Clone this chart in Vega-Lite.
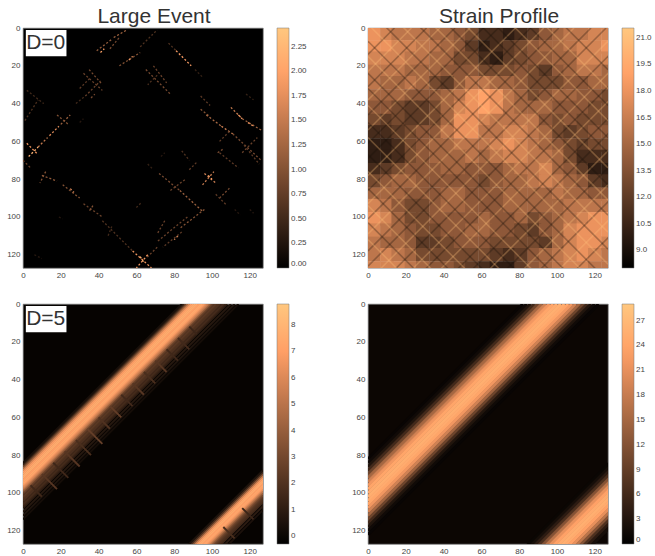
{"$schema":"https://vega.github.io/schema/vega-lite/v6.json","padding":{"left":6,"top":5,"right":0,"bottom":0},"bounds":"flush","columns":2,"spacing":{"column":105,"row":36},"background":"white","resolve":{"scale":{"color":"independent"},"legend":{"color":"independent"}},
"config":{"view":{"stroke":"#777","strokeWidth":0.7},"font":"Liberation Sans","axis":{"labelFontSize":8,"labelColor":"#444","ticks":false,"domain":false,"grid":false,"labelPadding":3,"title":null,"values":[0,20,40,60,80,100,120],"labelFlush":false},"legend":{"gradientLength":240,"gradientThickness":12,"offset":14,"labelFontSize":8,"labelColor":"#444","labelOverlap":false,"title":null,"gradientStrokeColor":"#777","gradientStrokeWidth":0.5},"title":{"fontSize":21,"fontWeight":"normal","color":"#333","offset":-3,"font":"Liberation Sans"}},
"concat":[
{"width":240,"height":240,"view":{"fill":"#000000"},"title":{"text":"Large Event","dx":11},
"layer":[
{"data":{"values":[
{"x":2,"y":61,"x2":8,"y2":67,"v":1.8},{"x":3,"y":68,"x2":8,"y2":63,"v":2.2},{"x":8,"y":63,"x2":13,"y2":58,"v":1.5},{"x":14,"y":57,"x2":19,"y2":52,"v":1.7},{"x":20,"y":51,"x2":25,"y2":46,"v":1.2},{"x":18,"y":46,"x2":24,"y2":51,"v":1.0},{"x":2,"y":33,"x2":11,"y2":40,"v":0.5},{"x":1,"y":49,"x2":8,"y2":38,"v":0.6},{"x":0,"y":70,"x2":4,"y2":74,"v":0.8},
{"x":39,"y":12,"x2":47,"y2":6,"v":1.1},{"x":48,"y":5,"x2":55,"y2":1,"v":1.3},{"x":41,"y":13,"x2":43,"y2":11,"v":2.0},{"x":46,"y":11,"x2":51,"y2":5,"v":0.9},
{"x":32,"y":24,"x2":42,"y2":33,"v":0.8},{"x":35,"y":22,"x2":42,"y2":30,"v":0.9},{"x":33,"y":36,"x2":41,"y2":28,"v":0.8},{"x":30,"y":32,"x2":36,"y2":26,"v":0.7},{"x":28,"y":40,"x2":33,"y2":36,"v":0.5},{"x":36,"y":37,"x2":38,"y2":35,"v":0.9},
{"x":51,"y":20,"x2":62,"y2":13,"v":1.0},{"x":56,"y":17,"x2":58,"y2":15,"v":1.8},{"x":62,"y":10,"x2":71,"y2":1,"v":0.6},
{"x":81,"y":12,"x2":89,"y2":20,"v":1.9},{"x":77,"y":8,"x2":81,"y2":12,"v":0.6},{"x":65,"y":22,"x2":78,"y2":35,"v":0.9},{"x":69,"y":20,"x2":76,"y2":29,"v":0.8},{"x":71,"y":25,"x2":66,"y2":30,"v":0.6},
{"x":91,"y":22,"x2":95,"y2":26,"v":0.4},{"x":94,"y":36,"x2":99,"y2":41,"v":0.7},{"x":94,"y":43,"x2":99,"y2":47,"v":1.0},{"x":97,"y":46,"x2":105,"y2":52,"v":1.3},{"x":105,"y":52,"x2":111,"y2":56,"v":1.6},{"x":110,"y":42,"x2":116,"y2":48,"v":1.5},{"x":116,"y":48,"x2":126,"y2":54,"v":1.2},{"x":114,"y":46,"x2":116,"y2":48,"v":1.9},{"x":119,"y":50,"x2":122,"y2":52,"v":1.8},{"x":111,"y":56,"x2":126,"y2":70,"v":0.9},{"x":104,"y":66,"x2":114,"y2":74,"v":0.7},{"x":117,"y":62,"x2":125,"y2":72,"v":0.7},{"x":116,"y":66,"x2":124,"y2":58,"v":0.8},{"x":104,"y":60,"x2":110,"y2":54,"v":0.7},{"x":103,"y":66,"x2":106,"y2":64,"v":0.9},
{"x":84,"y":65,"x2":88,"y2":70,"v":0.6},{"x":88,"y":75,"x2":92,"y2":71,"v":0.7},{"x":66,"y":72,"x2":69,"y2":75,"v":0.4},{"x":72,"y":77,"x2":83,"y2":86,"v":0.9},{"x":83,"y":86,"x2":95,"y2":97,"v":1.2},{"x":78,"y":86,"x2":86,"y2":80,"v":0.8},{"x":96,"y":77,"x2":102,"y2":82,"v":1.6},{"x":95,"y":83,"x2":101,"y2":76,"v":1.5},{"x":98,"y":78,"x2":100,"y2":80,"v":2.0},{"x":104,"y":90,"x2":110,"y2":84,"v":0.9},{"x":102,"y":88,"x2":108,"y2":94,"v":0.7},{"x":112,"y":96,"x2":115,"y2":99,"v":0.3},
{"x":96,"y":96,"x2":83,"y2":106,"v":1.0},{"x":87,"y":100,"x2":71,"y2":113,"v":0.8},{"x":82,"y":110,"x2":80,"y2":112,"v":1.7},{"x":75,"y":102,"x2":71,"y2":109,"v":0.8},{"x":84,"y":108,"x2":74,"y2":116,"v":0.7},{"x":71,"y":116,"x2":65,"y2":122,"v":0.8},{"x":58,"y":118,"x2":68,"y2":127,"v":1.8},{"x":66,"y":120,"x2":60,"y2":127,"v":1.9},{"x":62,"y":121,"x2":64,"y2":124,"v":2.2},{"x":60,"y":95,"x2":63,"y2":92,"v":0.5},
{"x":10,"y":78,"x2":18,"y2":81,"v":1.1},{"x":12,"y":76,"x2":9,"y2":82,"v":1.0},{"x":21,"y":83,"x2":30,"y2":90,"v":1.0},{"x":25,"y":85,"x2":27,"y2":87,"v":1.6},{"x":32,"y":93,"x2":42,"y2":100,"v":0.8},{"x":37,"y":94,"x2":35,"y2":97,"v":1.0},{"x":42,"y":102,"x2":51,"y2":111,"v":0.6},{"x":47,"y":105,"x2":45,"y2":110,"v":0.5},{"x":51,"y":111,"x2":58,"y2":118,"v":0.6},{"x":6,"y":120,"x2":10,"y2":122,"v":0.3},{"x":19,"y":100,"x2":21,"y2":101,"v":0.3},{"x":120,"y":96,"x2":122,"y2":98,"v":0.3},{"x":118,"y":35,"x2":122,"y2":38,"v":0.4},{"x":30,"y":50,"x2":32,"y2":48,"v":0.3},{"x":73,"y":68,"x2":75,"y2":66,"v":0.3}
]},"mark":{"type":"rule","strokeWidth":1.3,"strokeDash":[2,2],"clip":true},"encoding":{"x":{"field":"x","type":"quantitative","scale":{"domain":[0,127],"nice":false,"zero":false}},"y":{"field":"y","type":"quantitative","scale":{"domain":[127,0],"nice":false,"zero":false}},"x2":{"field":"x2"},"y2":{"field":"y2"},"color":{"field":"v","type":"quantitative","scale":{"domain":[0,1.95,2.44],"range":["#000000","#ff9f66","#ffc77f"],"interpolate":"rgb"},"legend":{"type":"gradient","values":[0,0.25,0.5,0.75,1,1.25,1.5,1.75,2,2.25],"format":".2f"}}}},
{"data":{"values":[{"x":1.5,"x2":23,"y":1,"y2":15}]},"mark":{"type":"rect","fill":"#ffffff"},"encoding":{"x":{"field":"x","type":"quantitative"},"x2":{"field":"x2"},"y":{"field":"y","type":"quantitative"},"y2":{"field":"y2"}}},
{"data":{"values":[{"x":12,"y":8,"label":"D=0"}]},"mark":{"type":"text","fontSize":21,"color":"#333"},"encoding":{"x":{"field":"x","type":"quantitative"},"y":{"field":"y","type":"quantitative"},"text":{"field":"label"}}}
]},
{"width":240,"height":240,"title":{"text":"Strain Profile","dx":11},
"layer":[
{"data":{"values":[
{"x":3,"y":3,"v":18},{"x":10,"y":3,"v":17},{"x":16,"y":3,"v":16},{"x":23,"y":3,"v":16},{"x":29,"y":3,"v":16},{"x":36,"y":3,"v":15},{"x":42,"y":3,"v":15},{"x":49,"y":3,"v":14},{"x":55,"y":3,"v":13},{"x":62,"y":3,"v":11},{"x":68,"y":3,"v":11},{"x":75,"y":3,"v":10},{"x":81,"y":3,"v":11},{"x":88,"y":3,"v":12},{"x":94,"y":3,"v":14},{"x":101,"y":3,"v":15},{"x":107,"y":3,"v":16},{"x":114,"y":3,"v":16},{"x":120,"y":3,"v":17},{"x":127,"y":3,"v":17},
{"x":3,"y":10,"v":18},{"x":10,"y":10,"v":18},{"x":16,"y":10,"v":17},{"x":23,"y":10,"v":17},{"x":29,"y":10,"v":16},{"x":36,"y":10,"v":16},{"x":42,"y":10,"v":15},{"x":49,"y":10,"v":14},{"x":55,"y":10,"v":12},{"x":62,"y":10,"v":10},{"x":68,"y":10,"v":11},{"x":75,"y":10,"v":12},{"x":81,"y":10,"v":13},{"x":88,"y":10,"v":14},{"x":94,"y":10,"v":15},{"x":101,"y":10,"v":15},{"x":107,"y":10,"v":16},{"x":114,"y":10,"v":17},{"x":120,"y":10,"v":17},{"x":127,"y":10,"v":18},
{"x":3,"y":16,"v":17},{"x":10,"y":16,"v":17},{"x":16,"y":16,"v":17},{"x":23,"y":16,"v":16},{"x":29,"y":16,"v":16},{"x":36,"y":16,"v":15},{"x":42,"y":16,"v":15},{"x":49,"y":16,"v":13},{"x":55,"y":16,"v":13},{"x":62,"y":16,"v":11},{"x":68,"y":16,"v":10},{"x":75,"y":16,"v":12},{"x":81,"y":16,"v":13},{"x":88,"y":16,"v":14},{"x":94,"y":16,"v":14},{"x":101,"y":16,"v":15},{"x":107,"y":16,"v":15},{"x":114,"y":16,"v":17},{"x":120,"y":16,"v":17},{"x":127,"y":16,"v":17},
{"x":3,"y":23,"v":16},{"x":10,"y":23,"v":16},{"x":16,"y":23,"v":16},{"x":23,"y":23,"v":15},{"x":29,"y":23,"v":15},{"x":36,"y":23,"v":15},{"x":42,"y":23,"v":14},{"x":49,"y":23,"v":14},{"x":55,"y":23,"v":14},{"x":62,"y":23,"v":13},{"x":68,"y":23,"v":13},{"x":75,"y":23,"v":13},{"x":81,"y":23,"v":14},{"x":88,"y":23,"v":13},{"x":94,"y":23,"v":12},{"x":101,"y":23,"v":14},{"x":107,"y":23,"v":15},{"x":114,"y":23,"v":16},{"x":120,"y":23,"v":16},{"x":127,"y":23,"v":15},
{"x":3,"y":29,"v":16},{"x":10,"y":29,"v":15},{"x":16,"y":29,"v":15},{"x":23,"y":29,"v":16},{"x":29,"y":29,"v":15},{"x":36,"y":29,"v":13},{"x":42,"y":29,"v":12},{"x":49,"y":29,"v":14},{"x":55,"y":29,"v":16},{"x":62,"y":29,"v":16},{"x":68,"y":29,"v":15},{"x":75,"y":29,"v":15},{"x":81,"y":29,"v":14},{"x":88,"y":29,"v":13},{"x":94,"y":29,"v":13},{"x":101,"y":29,"v":13},{"x":107,"y":29,"v":14},{"x":114,"y":29,"v":14},{"x":120,"y":29,"v":15},{"x":127,"y":29,"v":15},
{"x":3,"y":36,"v":15},{"x":10,"y":36,"v":15},{"x":16,"y":36,"v":15},{"x":23,"y":36,"v":14},{"x":29,"y":36,"v":14},{"x":36,"y":36,"v":14},{"x":42,"y":36,"v":15},{"x":49,"y":36,"v":16},{"x":55,"y":36,"v":18},{"x":62,"y":36,"v":19},{"x":68,"y":36,"v":18},{"x":75,"y":36,"v":16},{"x":81,"y":36,"v":15},{"x":88,"y":36,"v":13},{"x":94,"y":36,"v":14},{"x":101,"y":36,"v":15},{"x":107,"y":36,"v":15},{"x":114,"y":36,"v":14},{"x":120,"y":36,"v":14},{"x":127,"y":36,"v":13},
{"x":3,"y":42,"v":14},{"x":10,"y":42,"v":14},{"x":16,"y":42,"v":13},{"x":23,"y":42,"v":12},{"x":29,"y":42,"v":12},{"x":36,"y":42,"v":13},{"x":42,"y":42,"v":15},{"x":49,"y":42,"v":17},{"x":55,"y":42,"v":18},{"x":62,"y":42,"v":19},{"x":68,"y":42,"v":18},{"x":75,"y":42,"v":16},{"x":81,"y":42,"v":15},{"x":88,"y":42,"v":15},{"x":94,"y":42,"v":15},{"x":101,"y":42,"v":14},{"x":107,"y":42,"v":14},{"x":114,"y":42,"v":14},{"x":120,"y":42,"v":13},{"x":127,"y":42,"v":13},
{"x":3,"y":49,"v":13},{"x":10,"y":49,"v":12},{"x":16,"y":49,"v":13},{"x":23,"y":49,"v":12},{"x":29,"y":49,"v":12},{"x":36,"y":49,"v":13},{"x":42,"y":49,"v":15},{"x":49,"y":49,"v":18},{"x":55,"y":49,"v":18},{"x":62,"y":49,"v":17},{"x":68,"y":49,"v":16},{"x":75,"y":49,"v":16},{"x":81,"y":49,"v":16},{"x":88,"y":49,"v":16},{"x":94,"y":49,"v":14},{"x":101,"y":49,"v":13},{"x":107,"y":49,"v":14},{"x":114,"y":49,"v":13},{"x":120,"y":49,"v":13},{"x":127,"y":49,"v":13},
{"x":3,"y":55,"v":11},{"x":10,"y":55,"v":11},{"x":16,"y":55,"v":12},{"x":23,"y":55,"v":13},{"x":29,"y":55,"v":14},{"x":36,"y":55,"v":14},{"x":42,"y":55,"v":16},{"x":49,"y":55,"v":18},{"x":55,"y":55,"v":18},{"x":62,"y":55,"v":16},{"x":68,"y":55,"v":16},{"x":75,"y":55,"v":17},{"x":81,"y":55,"v":17},{"x":88,"y":55,"v":16},{"x":94,"y":55,"v":15},{"x":101,"y":55,"v":13},{"x":107,"y":55,"v":12},{"x":114,"y":55,"v":13},{"x":120,"y":55,"v":14},{"x":127,"y":55,"v":14},
{"x":3,"y":62,"v":10},{"x":10,"y":62,"v":10},{"x":16,"y":62,"v":11},{"x":23,"y":62,"v":13},{"x":29,"y":62,"v":14},{"x":36,"y":62,"v":15},{"x":42,"y":62,"v":15},{"x":49,"y":62,"v":16},{"x":55,"y":62,"v":16},{"x":62,"y":62,"v":16},{"x":68,"y":62,"v":17},{"x":75,"y":62,"v":18},{"x":81,"y":62,"v":17},{"x":88,"y":62,"v":16},{"x":94,"y":62,"v":15},{"x":101,"y":62,"v":14},{"x":107,"y":62,"v":13},{"x":114,"y":62,"v":12},{"x":120,"y":62,"v":13},{"x":127,"y":62,"v":13},
{"x":3,"y":68,"v":10},{"x":10,"y":68,"v":10},{"x":16,"y":68,"v":11},{"x":23,"y":68,"v":13},{"x":29,"y":68,"v":14},{"x":36,"y":68,"v":15},{"x":42,"y":68,"v":15},{"x":49,"y":68,"v":15},{"x":55,"y":68,"v":16},{"x":62,"y":68,"v":15},{"x":68,"y":68,"v":16},{"x":75,"y":68,"v":17},{"x":81,"y":68,"v":17},{"x":88,"y":68,"v":16},{"x":94,"y":68,"v":16},{"x":101,"y":68,"v":15},{"x":107,"y":68,"v":13},{"x":114,"y":68,"v":11},{"x":120,"y":68,"v":11},{"x":127,"y":68,"v":11},
{"x":3,"y":75,"v":11},{"x":10,"y":75,"v":12},{"x":16,"y":75,"v":13},{"x":23,"y":75,"v":14},{"x":29,"y":75,"v":14},{"x":36,"y":75,"v":14},{"x":42,"y":75,"v":15},{"x":49,"y":75,"v":15},{"x":55,"y":75,"v":14},{"x":62,"y":75,"v":14},{"x":68,"y":75,"v":14},{"x":75,"y":75,"v":15},{"x":81,"y":75,"v":16},{"x":88,"y":75,"v":16},{"x":94,"y":75,"v":17},{"x":101,"y":75,"v":15},{"x":107,"y":75,"v":14},{"x":114,"y":75,"v":12},{"x":120,"y":75,"v":10},{"x":127,"y":75,"v":10},
{"x":3,"y":81,"v":13},{"x":10,"y":81,"v":14},{"x":16,"y":81,"v":15},{"x":23,"y":81,"v":15},{"x":29,"y":81,"v":14},{"x":36,"y":81,"v":14},{"x":42,"y":81,"v":14},{"x":49,"y":81,"v":14},{"x":55,"y":81,"v":14},{"x":62,"y":81,"v":13},{"x":68,"y":81,"v":14},{"x":75,"y":81,"v":15},{"x":81,"y":81,"v":15},{"x":88,"y":81,"v":16},{"x":94,"y":81,"v":17},{"x":101,"y":81,"v":16},{"x":107,"y":81,"v":15},{"x":114,"y":81,"v":14},{"x":120,"y":81,"v":12},{"x":127,"y":81,"v":11},
{"x":3,"y":88,"v":15},{"x":10,"y":88,"v":15},{"x":16,"y":88,"v":15},{"x":23,"y":88,"v":14},{"x":29,"y":88,"v":14},{"x":36,"y":88,"v":14},{"x":42,"y":88,"v":15},{"x":49,"y":88,"v":15},{"x":55,"y":88,"v":14},{"x":62,"y":88,"v":14},{"x":68,"y":88,"v":14},{"x":75,"y":88,"v":15},{"x":81,"y":88,"v":15},{"x":88,"y":88,"v":15},{"x":94,"y":88,"v":15},{"x":101,"y":88,"v":16},{"x":107,"y":88,"v":15},{"x":114,"y":88,"v":15},{"x":120,"y":88,"v":14},{"x":127,"y":88,"v":14},
{"x":3,"y":94,"v":17},{"x":10,"y":94,"v":16},{"x":16,"y":94,"v":14},{"x":23,"y":94,"v":13},{"x":29,"y":94,"v":13},{"x":36,"y":94,"v":14},{"x":42,"y":94,"v":15},{"x":49,"y":94,"v":15},{"x":55,"y":94,"v":14},{"x":62,"y":94,"v":14},{"x":68,"y":94,"v":14},{"x":75,"y":94,"v":15},{"x":81,"y":94,"v":15},{"x":88,"y":94,"v":15},{"x":94,"y":94,"v":15},{"x":101,"y":94,"v":15},{"x":107,"y":94,"v":16},{"x":114,"y":94,"v":16},{"x":120,"y":94,"v":16},{"x":127,"y":94,"v":16},
{"x":3,"y":101,"v":18},{"x":10,"y":101,"v":17},{"x":16,"y":101,"v":15},{"x":23,"y":101,"v":13},{"x":29,"y":101,"v":13},{"x":36,"y":101,"v":14},{"x":42,"y":101,"v":14},{"x":49,"y":101,"v":14},{"x":55,"y":101,"v":14},{"x":62,"y":101,"v":15},{"x":68,"y":101,"v":14},{"x":75,"y":101,"v":14},{"x":81,"y":101,"v":15},{"x":88,"y":101,"v":13},{"x":94,"y":101,"v":14},{"x":101,"y":101,"v":15},{"x":107,"y":101,"v":16},{"x":114,"y":101,"v":17},{"x":120,"y":101,"v":18},{"x":127,"y":101,"v":18},
{"x":3,"y":107,"v":17},{"x":10,"y":107,"v":16},{"x":16,"y":107,"v":15},{"x":23,"y":107,"v":14},{"x":29,"y":107,"v":13},{"x":36,"y":107,"v":13},{"x":42,"y":107,"v":14},{"x":49,"y":107,"v":14},{"x":55,"y":107,"v":15},{"x":62,"y":107,"v":15},{"x":68,"y":107,"v":14},{"x":75,"y":107,"v":14},{"x":81,"y":107,"v":13},{"x":88,"y":107,"v":12},{"x":94,"y":107,"v":14},{"x":101,"y":107,"v":15},{"x":107,"y":107,"v":17},{"x":114,"y":107,"v":18},{"x":120,"y":107,"v":18},{"x":127,"y":107,"v":18},
{"x":3,"y":114,"v":16},{"x":10,"y":114,"v":15},{"x":16,"y":114,"v":15},{"x":23,"y":114,"v":14},{"x":29,"y":114,"v":12},{"x":36,"y":114,"v":12},{"x":42,"y":114,"v":13},{"x":49,"y":114,"v":14},{"x":55,"y":114,"v":14},{"x":62,"y":114,"v":14},{"x":68,"y":114,"v":13},{"x":75,"y":114,"v":13},{"x":81,"y":114,"v":13},{"x":88,"y":114,"v":13},{"x":94,"y":114,"v":12},{"x":101,"y":114,"v":15},{"x":107,"y":114,"v":17},{"x":114,"y":114,"v":18},{"x":120,"y":114,"v":18},{"x":127,"y":114,"v":17},
{"x":3,"y":120,"v":16},{"x":10,"y":120,"v":17},{"x":16,"y":120,"v":16},{"x":23,"y":120,"v":15},{"x":29,"y":120,"v":13},{"x":36,"y":120,"v":13},{"x":42,"y":120,"v":13},{"x":49,"y":120,"v":13},{"x":55,"y":120,"v":13},{"x":62,"y":120,"v":13},{"x":68,"y":120,"v":12},{"x":75,"y":120,"v":11},{"x":81,"y":120,"v":12},{"x":88,"y":120,"v":14},{"x":94,"y":120,"v":15},{"x":101,"y":120,"v":16},{"x":107,"y":120,"v":17},{"x":114,"y":120,"v":18},{"x":120,"y":120,"v":17},{"x":127,"y":120,"v":16},
{"x":3,"y":127,"v":17},{"x":10,"y":127,"v":17},{"x":16,"y":127,"v":17},{"x":23,"y":127,"v":16},{"x":29,"y":127,"v":15},{"x":36,"y":127,"v":14},{"x":42,"y":127,"v":14},{"x":49,"y":127,"v":13},{"x":55,"y":127,"v":12},{"x":62,"y":127,"v":11},{"x":68,"y":127,"v":10},{"x":75,"y":127,"v":10},{"x":81,"y":127,"v":12},{"x":88,"y":127,"v":14},{"x":94,"y":127,"v":15},{"x":101,"y":127,"v":16},{"x":107,"y":127,"v":17},{"x":114,"y":127,"v":17},{"x":120,"y":127,"v":16},{"x":127,"y":127,"v":16}
]},"mark":{"type":"rect","width":13.6,"height":13.6,"clip":true},"encoding":{"x":{"field":"x","type":"quantitative","scale":{"domain":[0,127],"nice":false,"zero":false}},"y":{"field":"y","type":"quantitative","scale":{"domain":[127,0],"nice":false,"zero":false}},"color":{"field":"v","type":"quantitative","scale":{"domain":[8,18.8,21.56],"range":["#000000","#ff9f66","#ffc77f"],"interpolate":"rgb"},"legend":{"type":"gradient","values":[9,10.5,12,13.5,15,16.5,18,19.5,21],"format":".1f"}}}},
{"data":{"values":[
{"x":0,"y":14,"x2":14,"y2":0,"v":9},{"x":0,"y":23,"x2":23,"y2":0,"v":21},{"x":0,"y":31,"x2":31,"y2":0,"v":9},{"x":0,"y":38,"x2":38,"y2":0,"v":21},{"x":0,"y":46,"x2":46,"y2":0,"v":9},{"x":0,"y":54,"x2":54,"y2":0,"v":21},{"x":0,"y":61,"x2":61,"y2":0,"v":9},{"x":0,"y":69,"x2":69,"y2":0,"v":9},{"x":0,"y":78,"x2":78,"y2":0,"v":21},{"x":0,"y":86,"x2":86,"y2":0,"v":9},{"x":0,"y":93,"x2":93,"y2":0,"v":21},{"x":0,"y":101,"x2":101,"y2":0,"v":9},{"x":0,"y":109,"x2":109,"y2":0,"v":21},{"x":0,"y":118,"x2":118,"y2":0,"v":9},{"x":0,"y":126,"x2":126,"y2":0,"v":9},{"x":0,"y":134,"x2":134,"y2":0,"v":21},{"x":0,"y":142,"x2":142,"y2":0,"v":9},{"x":0,"y":151,"x2":151,"y2":0,"v":21},{"x":0,"y":158,"x2":158,"y2":0,"v":9},{"x":0,"y":166,"x2":166,"y2":0,"v":21},{"x":0,"y":175,"x2":175,"y2":0,"v":9},{"x":0,"y":183,"x2":183,"y2":0,"v":9},{"x":0,"y":192,"x2":192,"y2":0,"v":21},{"x":0,"y":201,"x2":201,"y2":0,"v":9},{"x":0,"y":210,"x2":210,"y2":0,"v":21},{"x":0,"y":219,"x2":219,"y2":0,"v":9},{"x":0,"y":229,"x2":229,"y2":0,"v":21},{"x":0,"y":238,"x2":238,"y2":0,"v":9},
{"x":0,"y":-105,"x2":127,"y2":22,"v":9},{"x":0,"y":-95,"x2":127,"y2":32,"v":21},{"x":0,"y":-86,"x2":127,"y2":41,"v":9},{"x":0,"y":-78,"x2":127,"y2":49,"v":21},{"x":0,"y":-69,"x2":127,"y2":58,"v":9},{"x":0,"y":-61,"x2":127,"y2":66,"v":9},{"x":0,"y":-53,"x2":127,"y2":74,"v":21},{"x":0,"y":-44,"x2":127,"y2":83,"v":9},{"x":0,"y":-36,"x2":127,"y2":91,"v":21},{"x":0,"y":-28,"x2":127,"y2":99,"v":9},{"x":0,"y":-19,"x2":127,"y2":108,"v":21},{"x":0,"y":-10,"x2":127,"y2":117,"v":9},{"x":0,"y":-2,"x2":127,"y2":125,"v":21},{"x":0,"y":7,"x2":127,"y2":134,"v":9},{"x":0,"y":15,"x2":127,"y2":142,"v":21},{"x":0,"y":24,"x2":127,"y2":151,"v":9},{"x":0,"y":32,"x2":127,"y2":159,"v":9},{"x":0,"y":41,"x2":127,"y2":168,"v":21},{"x":0,"y":50,"x2":127,"y2":177,"v":9},{"x":0,"y":58,"x2":127,"y2":185,"v":21},{"x":0,"y":67,"x2":127,"y2":194,"v":9},{"x":0,"y":76,"x2":127,"y2":203,"v":21},{"x":0,"y":85,"x2":127,"y2":212,"v":9},{"x":0,"y":94,"x2":127,"y2":221,"v":21},{"x":0,"y":103,"x2":127,"y2":230,"v":9},{"x":0,"y":112,"x2":127,"y2":239,"v":21}
]},"mark":{"type":"rule","strokeWidth":1.6,"opacity":0.3,"clip":true},"encoding":{"x":{"field":"x","type":"quantitative"},"y":{"field":"y","type":"quantitative"},"x2":{"field":"x2"},"y2":{"field":"y2"},"stroke":{"field":"v","type":"quantitative","scale":{"domain":[8,18.8,21.56],"range":["#000000","#ff9f66","#ffc77f"],"interpolate":"rgb"},"legend":null}}}
]},
{"width":240,"height":240,"view":{"fill":"#060301"},
"layer":[
{"data":{"values":[
{"x":0,"y":114,"x2":114,"y2":0,"v":0.3},{"x":0,"y":112,"x2":112,"y2":0,"v":0.6},{"x":0,"y":110,"x2":110,"y2":0,"v":0.8},{"x":0,"y":108,"x2":108,"y2":0,"v":1},{"x":0,"y":107,"x2":107,"y2":0,"v":1.3},{"x":0,"y":106,"x2":106,"y2":0,"v":1.7},{"x":0,"y":105,"x2":105,"y2":0,"v":1.5},{"x":0,"y":104,"x2":104,"y2":0,"v":1.9},{"x":0,"y":103,"x2":103,"y2":0,"v":2},{"x":0,"y":102,"x2":102,"y2":0,"v":2.3},{"x":0,"y":101,"x2":101,"y2":0,"v":2.2},{"x":0,"y":100,"x2":100,"y2":0,"v":2.8},{"x":0,"y":99,"x2":99,"y2":0,"v":4},{"x":0,"y":98,"x2":98,"y2":0,"v":5.2},{"x":0,"y":97,"x2":97,"y2":0,"v":6},{"x":0,"y":96,"x2":96,"y2":0,"v":6.8},{"x":0,"y":95,"x2":95,"y2":0,"v":7.3},{"x":0,"y":94,"x2":94,"y2":0,"v":7.4},{"x":0,"y":93,"x2":93,"y2":0,"v":7},{"x":0,"y":92,"x2":92,"y2":0,"v":7.5},{"x":0,"y":91,"x2":91,"y2":0,"v":7.6},{"x":0,"y":90,"x2":90,"y2":0,"v":7.4},{"x":0,"y":89,"x2":89,"y2":0,"v":7},{"x":0,"y":88,"x2":88,"y2":0,"v":6},{"x":0,"y":87,"x2":87,"y2":0,"v":4.6},{"x":0,"y":86,"x2":86,"y2":0,"v":2.8},{"x":0,"y":85,"x2":85,"y2":0,"v":1.2},{"x":0,"y":84,"x2":84,"y2":0,"v":0.4},
{"x":0,"y":236,"x2":236,"y2":0,"v":0.5},{"x":0,"y":234,"x2":234,"y2":0,"v":1},{"x":0,"y":232,"x2":232,"y2":0,"v":1.5},{"x":0,"y":231,"x2":231,"y2":0,"v":1.8},{"x":0,"y":230,"x2":230,"y2":0,"v":2},{"x":0,"y":229,"x2":229,"y2":0,"v":2.4},{"x":0,"y":228,"x2":228,"y2":0,"v":3},{"x":0,"y":227,"x2":227,"y2":0,"v":4},{"x":0,"y":226,"x2":226,"y2":0,"v":5.2},{"x":0,"y":225,"x2":225,"y2":0,"v":6.3},{"x":0,"y":224,"x2":224,"y2":0,"v":7},{"x":0,"y":223,"x2":223,"y2":0,"v":7.4},{"x":0,"y":222,"x2":222,"y2":0,"v":7},{"x":0,"y":221,"x2":221,"y2":0,"v":7.5},{"x":0,"y":220,"x2":220,"y2":0,"v":7.4},{"x":0,"y":219,"x2":219,"y2":0,"v":6.8},{"x":0,"y":218,"x2":218,"y2":0,"v":5.6},{"x":0,"y":217,"x2":217,"y2":0,"v":3.6},{"x":0,"y":216,"x2":216,"y2":0,"v":1.8},{"x":0,"y":215,"x2":215,"y2":0,"v":0.6},
{"x":40,"y":60,"x2":46,"y2":66,"v":2},{"x":46,"y":54,"x2":52,"y2":60,"v":2.5},{"x":52,"y":48,"x2":58,"y2":54,"v":1.6},{"x":58,"y":42,"x2":64,"y2":48,"v":2.2},{"x":34,"y":66,"x2":42,"y2":74,"v":2.6},{"x":28,"y":72,"x2":36,"y2":80,"v":1.8},{"x":22,"y":78,"x2":30,"y2":86,"v":2.2},{"x":16,"y":84,"x2":24,"y2":92,"v":1.5},{"x":10,"y":90,"x2":18,"y2":98,"v":2.2},{"x":4,"y":96,"x2":10,"y2":102,"v":1.5},{"x":64,"y":36,"x2":70,"y2":42,"v":1.8},{"x":70,"y":30,"x2":76,"y2":36,"v":2.2},{"x":76,"y":24,"x2":82,"y2":30,"v":1.5},{"x":82,"y":18,"x2":88,"y2":24,"v":1.6},{"x":88,"y":12,"x2":92,"y2":16,"v":1.4},{"x":106,"y":118,"x2":112,"y2":124,"v":1.8},{"x":116,"y":108,"x2":122,"y2":114,"v":1.4}
]},"mark":{"type":"rule","strokeWidth":1.9,"clip":true},"encoding":{"x":{"field":"x","type":"quantitative","scale":{"domain":[0,127],"nice":false,"zero":false}},"y":{"field":"y","type":"quantitative","scale":{"domain":[127,0],"nice":false,"zero":false}},"x2":{"field":"x2"},"y2":{"field":"y2"},"color":{"field":"v","type":"quantitative","scale":{"domain":[-0.3,7,8.8],"range":["#000000","#ff9f66","#ffc77f"],"interpolate":"rgb"},"legend":{"type":"gradient","values":[0,1,2,3,4,5,6,7,8],"format":"d"}}}},
{"data":{"values":[{"x":1.5,"x2":23,"y":1,"y2":15}]},"mark":{"type":"rect","fill":"#ffffff"},"encoding":{"x":{"field":"x","type":"quantitative"},"x2":{"field":"x2"},"y":{"field":"y","type":"quantitative"},"y2":{"field":"y2"}}},
{"data":{"values":[{"x":12,"y":8,"label":"D=5"}]},"mark":{"type":"text","fontSize":21,"color":"#333"},"encoding":{"x":{"field":"x","type":"quantitative"},"y":{"field":"y","type":"quantitative"},"text":{"field":"label"}}}
]},
{"width":240,"height":240,"view":{"fill":"#0c0603"},
"data":{"values":[
{"x":0,"y":82,"x2":82,"y2":0,"v":0.8},{"x":0,"y":84,"x2":84,"y2":0,"v":1.5},{"x":0,"y":86,"x2":86,"y2":0,"v":3},{"x":0,"y":88,"x2":88,"y2":0,"v":6},{"x":0,"y":90,"x2":90,"y2":0,"v":10},{"x":0,"y":92,"x2":92,"y2":0,"v":15},{"x":0,"y":94,"x2":94,"y2":0,"v":19},{"x":0,"y":96,"x2":96,"y2":0,"v":22},{"x":0,"y":98,"x2":98,"y2":0,"v":24},{"x":0,"y":100,"x2":100,"y2":0,"v":25},{"x":0,"y":102,"x2":102,"y2":0,"v":25.5},{"x":0,"y":104,"x2":104,"y2":0,"v":25},{"x":0,"y":106,"x2":106,"y2":0,"v":24},{"x":0,"y":108,"x2":108,"y2":0,"v":22},{"x":0,"y":110,"x2":110,"y2":0,"v":19},{"x":0,"y":112,"x2":112,"y2":0,"v":15},{"x":0,"y":114,"x2":114,"y2":0,"v":10},{"x":0,"y":116,"x2":116,"y2":0,"v":6},{"x":0,"y":118,"x2":118,"y2":0,"v":3},{"x":0,"y":120,"x2":120,"y2":0,"v":1.5},{"x":0,"y":122,"x2":122,"y2":0,"v":0.8},
{"x":0,"y":212,"x2":212,"y2":0,"v":1},{"x":0,"y":214,"x2":214,"y2":0,"v":2},{"x":0,"y":216,"x2":216,"y2":0,"v":4},{"x":0,"y":218,"x2":218,"y2":0,"v":7},{"x":0,"y":220,"x2":220,"y2":0,"v":12},{"x":0,"y":222,"x2":222,"y2":0,"v":17},{"x":0,"y":224,"x2":224,"y2":0,"v":21},{"x":0,"y":226,"x2":226,"y2":0,"v":23.5},{"x":0,"y":228,"x2":228,"y2":0,"v":25},{"x":0,"y":230,"x2":230,"y2":0,"v":25.5},{"x":0,"y":232,"x2":232,"y2":0,"v":25},{"x":0,"y":234,"x2":234,"y2":0,"v":23.5},{"x":0,"y":236,"x2":236,"y2":0,"v":21},{"x":0,"y":238,"x2":238,"y2":0,"v":17},{"x":0,"y":240,"x2":240,"y2":0,"v":12},{"x":0,"y":242,"x2":242,"y2":0,"v":7},{"x":0,"y":244,"x2":244,"y2":0,"v":4},{"x":0,"y":246,"x2":246,"y2":0,"v":2}
]},"mark":{"type":"rule","strokeWidth":3.2,"clip":true},"encoding":{"x":{"field":"x","type":"quantitative","scale":{"domain":[0,127],"nice":false,"zero":false}},"y":{"field":"y","type":"quantitative","scale":{"domain":[127,0],"nice":false,"zero":false}},"x2":{"field":"x2"},"y2":{"field":"y2"},"color":{"field":"v","type":"quantitative","scale":{"domain":[0,23.2,29],"range":["#000000","#ff9f66","#ffc77f"],"interpolate":"rgb"},"legend":{"type":"gradient","values":[0,3,6,9,12,15,18,21,24,27],"format":"d"}}}}
]}
